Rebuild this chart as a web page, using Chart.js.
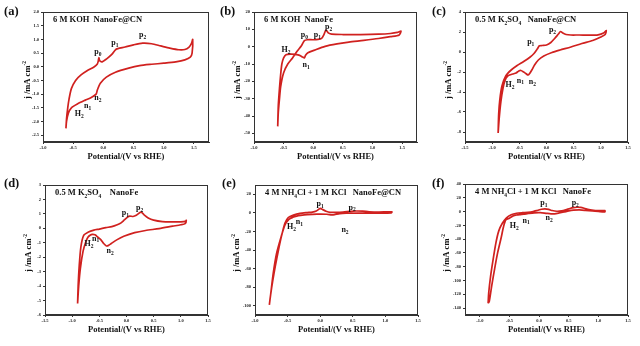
<!DOCTYPE html>
<html>
<head>
<meta charset="utf-8">
<script src="https://cdn.jsdelivr.net/npm/chart.js@4.4.1/dist/chart.umd.min.js"></script>
<style>
  body { margin: 0; background: #fff; width: 640px; height: 346px; position: relative; overflow: hidden; font-family: "Liberation Serif", serif; color: #111; }
  canvas { position: absolute; }
  .tag { position: absolute; font-weight: bold; font-size: 12.5px; }
  .inner { position: absolute; font-weight: bold; font-size: 8.5px; white-space: nowrap; }
  .xt { position: absolute; font-weight: bold; font-size: 8.5px; text-align: center; width: 160px; white-space: nowrap; }
  sub { font-size: 5.5px; }
</style>
</head>
<body>
<script>
// (a) 6 M KOH NanoFe@CN  -- anodic sweep then cathodic sweep
const potA = [-0.62, -0.61, -0.59, -0.57, -0.53, -0.46, -0.37, -0.27, -0.15, -0.1, -0.085, -0.075, -0.06, -0.02, 0.05, 0.14, 0.2, 0.24, 0.36, 0.5, 0.65, 0.8, 0.95, 1.1, 1.25, 1.35, 1.42, 1.46, 1.48,
              1.47, 1.44, 1.35, 1.2, 1.0, 0.8, 0.6, 0.42, 0.2, 0.05, -0.05, -0.1, -0.12, -0.2, -0.3, -0.43, -0.53, -0.58, -0.61, -0.62];
const curA = [-2.25, -1.9, -1.5, -1.2, -0.8, -0.5, -0.3, -0.15, 0.0, 0.1, 0.2, 0.33, 0.22, 0.18, 0.28, 0.45, 0.62, 0.66, 0.72, 0.8, 0.86, 0.84, 0.76, 0.68, 0.62, 0.63, 0.72, 0.85, 1.0,
              0.5, 0.35, 0.25, 0.18, 0.13, 0.09, 0.04, -0.05, -0.2, -0.38, -0.6, -0.85, -1.0, -1.12, -1.22, -1.36, -1.5, -1.7, -2.0, -2.25];

// (b) 6 M KOH NanoFe
const potB = [-0.6, -0.59, -0.57, -0.55, -0.5, -0.43, -0.35, -0.27, -0.2, -0.15, -0.1, 0.0, 0.08, 0.14, 0.18, 0.21, 0.23, 0.26, 0.31, 0.5, 0.8, 1.1, 1.3, 1.42, 1.48,
              1.45, 1.3, 1.1, 0.85, 0.6, 0.4, 0.2, 0.02, -0.09, -0.13, -0.15, -0.18, -0.23, -0.3, -0.38, -0.46, -0.5, -0.53, -0.55, -0.57, -0.59, -0.6];
const curB = [-46, -38, -30, -23, -15, -10, -6.5, -2.5, 0.5, 3.5, 4.0, 4.0, 4.2, 4.8, 7.0, 9.5, 9.0, 7.8, 7.2, 7.0, 7.0, 7.2, 7.6, 8.2, 9.0,
              6.8, 5.8, 4.7, 3.6, 2.6, 1.6, 0.2, -2.0, -3.5, -5.0, -6.5, -6.0, -5.0, -4.5, -4.3, -4.6, -6.5, -10, -16, -24, -34, -46];

// (c) 0.5 M K2SO4 NanoFe@CN
const potC = [-0.89, -0.88, -0.86, -0.82, -0.75, -0.65, -0.54, -0.42, -0.3, -0.23, -0.17, -0.13, -0.08, 0.0, 0.08, 0.15, 0.22, 0.26, 0.3, 0.36, 0.45, 0.6, 0.8, 0.95, 1.05, 1.1,
              1.08, 1.0, 0.85, 0.65, 0.45, 0.25, 0.1, -0.05, -0.15, -0.22, -0.27, -0.31, -0.34, -0.38, -0.42, -0.47, -0.51, -0.56, -0.62, -0.68, -0.72, -0.76, -0.8, -0.84, -0.87, -0.89];
const curC = [-8.1, -6.2, -4.8, -3.4, -2.4, -1.8, -1.35, -0.95, -0.5, -0.15, 0.3, 0.62, 0.65, 0.7, 0.95, 1.35, 1.8, 2.05, 1.9, 1.75, 1.7, 1.7, 1.68, 1.72, 1.9, 2.15,
              1.75, 1.5, 1.15, 0.85, 0.5, 0.2, -0.05, -0.4, -0.8, -1.3, -1.8, -2.15, -2.3, -2.15, -2.0, -1.85, -1.9, -2.1, -2.2, -2.3, -2.45, -2.8, -3.6, -5.0, -6.6, -8.1];

// (d) 0.5 M K2SO4 NanoFe
const potD = [-0.9, -0.89, -0.87, -0.84, -0.79, -0.7, -0.6, -0.5, -0.38, -0.27, -0.17, -0.1, -0.04, 0.02, 0.06, 0.12, 0.18, 0.23, 0.27, 0.32, 0.4, 0.5, 0.66, 0.85, 1.0, 1.08, 1.1,
              1.08, 1.0, 0.85, 0.6, 0.35, 0.15, -0.05, -0.18, -0.28, -0.33, -0.37, -0.42, -0.47, -0.53, -0.58, -0.63, -0.67, -0.71, -0.75, -0.8, -0.85, -0.88, -0.9];
const curD = [-5.2, -4.0, -2.6, -1.3, -0.5, -0.25, -0.12, -0.05, 0.05, 0.12, 0.25, 0.38, 0.58, 0.78, 0.85, 0.82, 0.9, 1.05, 1.12, 0.95, 0.72, 0.57, 0.47, 0.45, 0.45, 0.48, 0.55,
              0.33, 0.25, 0.15, -0.02, -0.15, -0.3, -0.55, -0.8, -1.05, -1.18, -1.22, -1.05, -0.8, -0.6, -0.45, -0.42, -0.48, -0.62, -0.95, -1.6, -2.8, -4.0, -5.2];

// (e) 4 M NH4Cl + 1 M KCl NanoFe@CN
const potE = [-0.78, -0.76, -0.73, -0.69, -0.64, -0.59, -0.54, -0.49, -0.41, -0.31, -0.2, -0.12, -0.06, -0.02, 0.0, 0.04, 0.09, 0.15, 0.25, 0.35, 0.45, 0.55, 0.65, 0.75, 0.9, 1.1,
              1.09, 0.9, 0.6, 0.4, 0.3, 0.22, 0.18, 0.1, -0.05, -0.2, -0.3, -0.36, -0.42, -0.48, -0.54, -0.6, -0.67, -0.72, -0.76, -0.78];
const curE = [-99, -88, -74, -58, -40, -24, -11, -5, -2.4, -0.6, 0.3, 0.8, 2.0, 4.0, 4.8, 3.5, 1.8, 0.6, 0.6, 0.9, 1.5, 2.0, 1.8, 1.2, 0.9, 1.1,
              0.0, -0.3, -0.3, -0.4, -0.8, -1.9, -2.2, -1.5, -1.4, -2.0, -2.8, -3.5, -4.8, -7.0, -13, -26, -44, -65, -88, -99];

// (f) 4 M NH4Cl + 1 M KCl NanoFe
const potF = [-0.86, -0.85, -0.82, -0.78, -0.73, -0.68, -0.62, -0.55, -0.47, -0.38, -0.28, -0.19, -0.1, -0.02, 0.04, 0.1, 0.16, 0.22, 0.3, 0.38, 0.45, 0.52, 0.58, 0.64, 0.7, 0.76, 0.84, 0.95, 1.05, 1.11,
              1.11, 1.0, 0.9, 0.78, 0.68, 0.58, 0.5, 0.42, 0.34, 0.26, 0.2, 0.12, 0.02, -0.08, -0.18, -0.26, -0.32, -0.38, -0.44, -0.5, -0.56, -0.6, -0.64, -0.7, -0.75, -0.8, -0.84, -0.86];
const curF = [-133, -118, -95, -72, -46, -28, -17, -9, -4.5, -2.4, -1.6, -1.2, 0.0, 2.0, 3.4, 3.9, 3.2, 1.5, 0.5, 1.0, 2.5, 4.5, 5.8, 6.3, 6.0, 4.8, 2.8, 1.6, 1.4, 1.5,
              -0.3, 0.2, 0.8, 1.8, 2.4, 2.0, 1.0, -0.6, -2.0, -3.2, -3.2, -2.5, -1.6, -1.8, -2.8, -3.8, -4.3, -5.0, -6.5, -9.5, -12, -22, -38, -60, -83, -108, -130, -133];

// tick values
const xTicksA = [-1.0, -0.5, 0.0, 0.5, 1.0, 1.5];
const yTicksA = [-2.5, -2.0, -1.5, -1.0, -0.5, 0.0, 0.5, 1.0, 1.5, 2.0];
const yTicksB = [-50, -40, -30, -20, -10, 0, 10, 20];
const xTicksC = [-1.5, -1.0, -0.5, 0.0, 0.5, 1.0, 1.5];
const yTicksC = [-8, -6, -4, -2, 0, 2, 4];
const yTicksD = [-6, -5, -4, -3, -2, -1, 0, 1, 2, 3];
const yTicksE = [-100, -80, -60, -40, -20, 0, 20];
const yTicksF = [-140, -120, -100, -80, -60, -40, -20, 0, 20, 40];

// peak labels: [letter, subscript, potential, current]
const marksA = [['p', '0', -0.09, 0.55], ['p', '1', 0.19, 0.88], ['p', '2', 0.65, 1.16], ['n', '1', -0.26, -1.44], ['n', '2', -0.09, -1.14], ['H', '2', -0.4, -1.74]];
const marksB = [['p', '0', -0.15, 6.6], ['p', '1', 0.07, 6.6], ['p', '2', 0.26, 11.4], ['H', '2', -0.46, -2.0], ['n', '1', -0.12, -10.6]];
const marksC = [['p', '1', -0.29, 1.0], ['p', '2', 0.11, 2.2], ['H', '2', -0.67, -3.3], ['n', '1', -0.48, -2.85], ['n', '2', -0.26, -3.0]];
const marksD = [['p', '1', -0.02, 1.08], ['p', '2', 0.24, 1.38], ['H', '2', -0.69, -1.1], ['n', '1', -0.57, -0.7], ['n', '2', -0.3, -1.57]];
const marksE = [['p', '1', 0.0, 9.3], ['p', '2', 0.49, 5.8], ['H', '2', -0.44, -14.9], ['n', '1', -0.32, -10.2], ['n', '2', 0.38, -18.4]];
const marksF = [['p', '1', 0.08, 12], ['p', '2', 0.61, 12], ['H', '2', -0.42, -20.7], ['n', '1', -0.22, -13], ['n', '2', 0.17, -9.6]];

const FONT = "Liberation Serif";
const RED = "#d0211f";
const PL = 30, YW = 20, XH = 12, PT = 6, PR = 6;

const panels = [
  { tag: "(a)", tagAt: [4, 4], title: "6 M KOH&nbsp; NanoFe@CN", box: [43, 12, 209, 142], ytx: 15, xr: [-1.0, 1.75], yr: [-2.75, 2.0], xt: xTicksA, yt: yTicksA, ydec: 1, pot: potA, cur: curA, marks: marksA },
  { tag: "(b)", tagAt: [220, 4], title: "6 M KOH&nbsp; NanoFe", box: [254, 12, 417, 142], ytx: 16, xr: [-1.0, 1.75], yr: [-55, 20], xt: xTicksA, yt: yTicksB, ydec: 0, pot: potB, cur: curB, marks: marksB },
  { tag: "(c)", tagAt: [432, 4], title: "0.5 M K<sub>2</sub>SO<sub>4</sub>&nbsp;&nbsp; NanoFe@CN", box: [465, 12, 628, 142], ytx: 16, xr: [-1.5, 1.5], yr: [-9, 4], xt: xTicksC, yt: yTicksC, ydec: 0, pot: potC, cur: curC, marks: marksC },
  { tag: "(d)", tagAt: [4, 176], title: "0.5 M K<sub>2</sub>SO<sub>4</sub>&nbsp;&nbsp;&nbsp; NanoFe", box: [45, 185, 208, 315], ytx: 16, xr: [-1.5, 1.5], yr: [-6, 3], xt: xTicksC, yt: yTicksD, ydec: 0, pot: potD, cur: curD, marks: marksD },
  { tag: "(e)", tagAt: [222, 176], title: "4 M NH<sub>4</sub>Cl + 1 M KCl&nbsp;&nbsp; NanoFe@CN", box: [255, 185, 418, 315], ytx: 18, xr: [-1.0, 1.5], yr: [-110, 30], xt: xTicksA, yt: yTicksE, ydec: 0, pot: potE, cur: curE, marks: marksE },
  { tag: "(f)", tagAt: [432, 176], title: "4 M NH<sub>4</sub>Cl + 1 M KCl&nbsp;&nbsp; NanoFe", box: [465, 184, 628, 315], ytx: 18, xr: [-1.25, 1.5], yr: [-150, 40], xt: xTicksA, yt: yTicksF, ydec: 0, pot: potF, cur: curF, marks: marksF }
];

const framePlugin = {
  id: "frame",
  afterDraw(chart) {
    const a = chart.chartArea, ctx = chart.ctx;
    ctx.save();
    ctx.strokeStyle = "#333";
    ctx.lineWidth = 1;
    ctx.strokeRect(Math.round(a.left) + 0.5, Math.round(a.top) + 0.5, Math.round(a.right - a.left) - 1, Math.round(a.bottom - a.top) - 1);
    ctx.restore();
  }
};

// y axis title "j /mA cm-2", drawn rotated left of the tick labels
const yTitlePlugin = {
  id: "ytitle",
  afterDraw(chart, args, opts) {
    const a = chart.chartArea, ctx = chart.ctx;
    ctx.save();
    ctx.translate(Math.round(a.left - opts.dx), Math.round((a.top + a.bottom) / 2 + 3));
    ctx.rotate(-Math.PI / 2);
    ctx.fillStyle = "#111";
    ctx.textBaseline = "middle";
    ctx.font = "bold 8.5px " + FONT;
    const main = "j /mA cm";
    const w1 = ctx.measureText(main).width;
    ctx.font = "bold 5.5px " + FONT;
    const w2 = ctx.measureText("-2").width;
    const x0 = -(w1 + w2) / 2;
    ctx.font = "bold 8.5px " + FONT;
    ctx.fillText(main, x0, 0);
    ctx.font = "bold 5.5px " + FONT;
    ctx.fillText("-2", x0 + w1, -3);
    ctx.restore();
  }
};

const peakPlugin = {
  id: "peaks",
  afterDatasetsDraw(chart, args, opts) {
    const ctx = chart.ctx, sx = chart.scales.x, sy = chart.scales.y;
    ctx.save();
    ctx.fillStyle = "#111";
    ctx.textBaseline = "middle";
    opts.marks.forEach(function (m) {
      const px = sx.getPixelForValue(m[2]), py = sy.getPixelForValue(m[3]);
      ctx.font = "bold 8px " + FONT;
      const w1 = ctx.measureText(m[0]).width;
      ctx.font = "bold 5.5px " + FONT;
      const w2 = ctx.measureText(m[1]).width;
      const x0 = px - (w1 + w2) / 2;
      ctx.font = "bold 8px " + FONT;
      ctx.fillText(m[0], x0, py);
      ctx.font = "bold 5.5px " + FONT;
      ctx.fillText(m[1], x0 + w1, py + 2.5);
    });
    ctx.restore();
  }
};

function addDiv(cls, html, left, top) {
  const d = document.createElement("div");
  d.className = cls;
  d.innerHTML = html;
  d.style.left = left + "px";
  d.style.top = top + "px";
  document.body.appendChild(d);
  return d;
}

function tickFont() {
  return { family: FONT, size: 4.5, weight: "bold" };
}

panels.forEach(function (p) {
  const L = p.box[0], T = p.box[1], R = p.box[2], B = p.box[3];
  const cv = document.createElement("canvas");
  cv.width = (R - L) + PL + YW + PR;
  cv.height = (B - T) + PT + XH;
  cv.style.left = (L - YW - PL) + "px";
  cv.style.top = (T - PT) + "px";
  document.body.appendChild(cv);

  new Chart(cv.getContext("2d"), {
    type: "scatter",
    data: {
      datasets: [{
        data: p.pot.map(function (v, i) { return { x: v, y: p.cur[i] }; }),
        showLine: true,
        borderColor: RED,
        borderWidth: 1.7,
        pointRadius: 0,
        tension: 0.25
      }]
    },
    options: {
      responsive: false,
      animation: false,
      events: [],
      layout: { padding: { top: PT, right: PR, left: PL, bottom: 0 } },
      plugins: {
        legend: { display: false },
        tooltip: { enabled: false },
        peaks: { marks: p.marks },
        ytitle: { dx: p.ytx }
      },
      scales: {
        x: {
          type: "linear", min: p.xr[0], max: p.xr[1],
          afterBuildTicks: function (s) { s.ticks = p.xt.map(function (v) { return { value: v }; }); },
          afterFit: function (s) { s.height = XH; },
          grid: { drawOnChartArea: false, tickLength: 2, color: "#333" },
          border: { color: "#333" },
          ticks: { font: tickFont(), color: "#222", padding: 1, maxRotation: 0, autoSkip: false,
                   callback: function (v) { return v.toFixed(1); } }
        },
        y: {
          type: "linear", min: p.yr[0], max: p.yr[1],
          afterBuildTicks: function (s) { s.ticks = p.yt.map(function (v) { return { value: v }; }); },
          afterFit: function (s) { s.width = YW; },
          grid: { drawOnChartArea: false, tickLength: 2, color: "#333" },
          border: { color: "#333" },
          ticks: { font: tickFont(), color: "#222", padding: 2, autoSkip: false,
                   callback: function (v) { return v.toFixed(p.ydec); } }
        }
      }
    },
    plugins: [framePlugin, peakPlugin, yTitlePlugin]
  });

  addDiv("tag", p.tag, p.tagAt[0], p.tagAt[1]);
  addDiv("inner", p.title, L + 10, T + 2);
  addDiv("xt", "Potential/(V vs RHE)", (L + R) / 2 - 80, B + 9);
});
</script>
</body>
</html>
